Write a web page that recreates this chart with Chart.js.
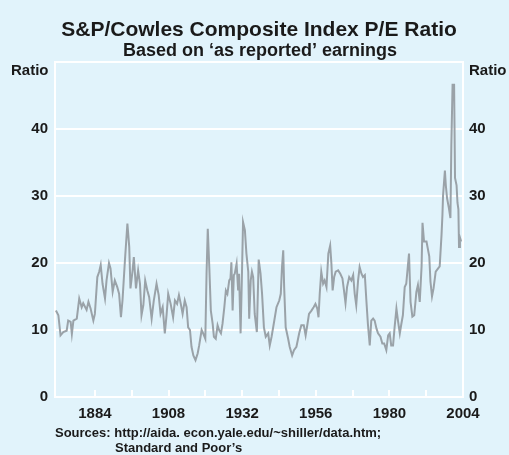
<!DOCTYPE html>
<html>
<head>
<meta charset="utf-8">
<script src="https://cdn.jsdelivr.net/npm/chart.js@4/dist/chart.umd.min.js"></script>
<style>
  html, body { margin: 0; padding: 0; background: #e1f3fb; }
  #wrap { width: 509px; height: 455px; position: relative; }
</style>
</head>
<body>
<div id="wrap"><canvas id="pe-chart"></canvas></div>
<script>
// P/E ratio (fractional years)
const years = [
  1871.3, 1872.1, 1872.8, 1873.7, 1874.8, 1875.3, 1876.1, 1876.5, 1877.0, 1878.1,
  1878.9, 1879.7, 1880.2, 1881.3, 1881.9, 1882.6, 1883.5, 1884.0, 1884.8, 1885.4,
  1885.9, 1886.5, 1887.3, 1887.8, 1888.6, 1889.1, 1889.8, 1890.5, 1891.3, 1891.9,
  1892.5, 1893.0, 1893.8, 1894.6, 1895.2, 1895.6, 1896.3, 1896.7, 1897.4, 1898.1,
  1898.7, 1899.2, 1899.8, 1900.4, 1901.1, 1901.7, 1902.5, 1903.2, 1904.1, 1904.8,
  1905.4, 1906.1, 1906.8, 1907.4, 1907.9, 1908.7, 1909.5, 1910.1, 1910.8, 1911.4,
  1912.0, 1912.6, 1913.3, 1913.9, 1914.4, 1915.0, 1915.5, 1916.1, 1916.8, 1917.5,
  1918.0, 1918.8, 1919.3, 1920.0, 1920.4, 1920.8, 1921.3, 1921.8, 1922.4, 1922.8,
  1923.4, 1924.0, 1924.5, 1925.1, 1925.6, 1926.2, 1926.7, 1927.2, 1927.8, 1928.2,
  1928.5, 1928.9, 1929.3, 1929.6, 1930.2, 1930.7, 1931.0, 1931.5, 1931.9, 1932.3,
  1932.9, 1933.4, 1934.0, 1934.3, 1934.8, 1935.2, 1935.6, 1936.1, 1936.8, 1937.4,
  1938.0, 1938.5, 1939.1, 1939.7, 1940.5, 1941.0, 1941.6, 1942.3, 1943.2, 1944.1,
  1944.6, 1945.0, 1945.4, 1945.7, 1946.2, 1947.0, 1947.5, 1948.3, 1948.9, 1949.7,
  1950.6, 1951.3, 1952.1, 1952.7, 1953.3, 1953.8, 1954.6, 1955.3, 1955.9, 1956.5,
  1956.9, 1957.3, 1957.8, 1958.4, 1958.9, 1959.5, 1960.1, 1960.7, 1961.1, 1961.5,
  1962.0, 1962.5, 1963.3, 1964.0, 1964.7, 1965.2, 1965.7, 1966.2, 1966.9, 1967.6,
  1968.2, 1968.7, 1969.2, 1969.8, 1970.3, 1970.9, 1971.4, 1972.0, 1972.5, 1973.0,
  1973.6, 1974.1, 1974.7, 1975.2, 1975.8, 1976.3, 1977.1, 1977.7, 1978.3, 1979.0,
  1979.6, 1980.1, 1980.6, 1981.2, 1981.7, 1982.3, 1982.8, 1983.4, 1983.9, 1984.4,
  1985.0, 1985.5, 1986.1, 1986.4, 1986.9, 1987.5, 1988.1, 1988.8, 1989.3, 1989.9,
  1990.5, 1990.8, 1991.3, 1992.1, 1993.0, 1993.4, 1993.9, 1994.4, 1995.1, 1995.9,
  1996.4, 1997.0, 1997.3, 1997.5, 1998.1, 1998.4, 1998.8, 1999.4, 1999.9, 2000.2,
  2000.6, 2001.1, 2001.4, 2001.9, 2002.2, 2002.5, 2002.7, 2003.0, 2003.4
];
const ratios = [
  12.9, 12.2, 9.2, 9.7, 9.9, 11.4, 11.2, 9.4, 11.4, 11.7,
  14.7, 13.4, 14.0, 13.0, 14.2, 13.2, 11.4, 12.4, 17.9, 18.7,
  19.7, 16.9, 14.7, 17.4, 20.0, 19.2, 15.7, 17.4, 16.4, 15.4,
  11.9, 14.4, 20.4, 25.9, 22.4, 16.2, 18.9, 20.9, 16.2, 18.9,
  16.9, 12.2, 13.7, 17.4, 15.9, 14.9, 11.7, 14.4, 16.9, 15.2,
  12.4, 13.4, 9.5, 12.4, 15.4, 13.9, 11.9, 14.4, 13.9, 15.2,
  13.9, 12.4, 14.4, 13.4, 10.4, 10.0, 7.5, 6.2, 5.5, 6.5,
  7.7, 10.0, 9.5, 8.7, 18.4, 25.1, 19.4, 12.9, 10.9, 9.0,
  8.7, 10.7, 10.0, 9.5, 10.9, 13.4, 15.9, 15.4, 17.4, 17.7,
  20.1, 12.9, 18.2, 18.4, 19.9, 15.9, 18.4, 9.5, 17.4, 26.1,
  24.9, 21.4, 18.7, 11.7, 17.4, 18.7, 17.9, 12.4, 9.7, 20.5,
  18.4, 15.4, 10.4, 9.0, 9.5, 7.7, 9.0, 10.9, 13.4, 14.4,
  15.4, 19.4, 21.9, 16.4, 10.4, 8.7, 7.5, 6.2, 7.0, 7.5,
  9.5, 10.7, 10.7, 9.2, 10.9, 12.4, 12.9, 13.4, 13.9, 13.2,
  11.9, 15.4, 18.7, 16.9, 17.4, 16.4, 21.4, 22.6, 19.9, 15.9,
  17.9, 18.7, 18.9, 18.4, 17.7, 15.9, 14.0, 16.4, 17.9, 17.4,
  18.2, 15.4, 13.7, 17.4, 19.4, 18.4, 17.9, 18.2, 14.4, 10.9,
  7.7, 11.4, 11.7, 11.4, 10.2, 9.5, 9.0, 8.0, 8.0, 7.0,
  9.2, 9.5, 7.7, 7.7, 10.4, 13.2, 11.4, 9.5, 10.9, 12.2,
  16.4, 16.9, 19.9, 21.4, 14.2, 12.0, 12.2, 15.7, 16.7, 14.2,
  19.5, 26.0, 23.2, 23.2, 21.0, 17.2, 15.0, 16.2, 18.7, 19.2,
  19.5, 24.2, 27.2, 30.1, 33.8, 31.6, 29.7, 28.2, 26.7, 37.6,
  46.6, 46.6, 32.7, 31.6, 29.0, 28.0, 22.4, 23.8, 23.2
];
const yTicks = [0, 10, 20, 30, 40];
const xTicks = [1884, 1896, 1908, 1920, 1932, 1944, 1956, 1968, 1980, 1992, 2004];
const xLabels = [1884, 1908, 1932, 1956, 1980, 2004];

Chart.defaults.font.family = '"Liberation Sans", Arial, sans-serif';
Chart.defaults.color = '#1a1a1a';

const BG = '#e1f3fb';
const WHITE = '#ffffff';
const FONT = '"Liberation Sans", Arial, sans-serif';

var decor = {
    id: 'decor',
    beforeDraw: function (chart) {
        var c = chart.ctx;
        c.save();
        c.fillStyle = BG;
        c.fillRect(0, 0, chart.width, chart.height);
        c.restore();
    },
    beforeDatasetsDraw: function (chart) {
        var c = chart.ctx, a = chart.chartArea, x = chart.scales.x;
        c.save();
        c.strokeStyle = WHITE;
        c.lineWidth = 2;
        c.strokeRect(a.left, a.top, a.right - a.left, a.bottom - a.top);
        // small tick marks pointing up from the bottom edge
        xTicks.forEach(function (v) {
            var px = Math.round(x.getPixelForValue(v));
            c.beginPath();
            c.moveTo(px, a.bottom);
            c.lineTo(px, a.bottom - 7);
            c.stroke();
        });
        c.restore();
    },
    afterDraw: function (chart) {
        var c = chart.ctx;
        c.save();
        c.fillStyle = '#1a1a1a';
        c.textBaseline = 'middle';
        c.textAlign = 'center';
        c.font = 'bold 21px ' + FONT;
        c.fillText('S&P/Cowles Composite Index P/E Ratio', 259, 30);
        c.font = 'bold 18px ' + FONT;
        c.fillText('Based on \u2018as reported\u2019 earnings', 260, 51);
        c.font = 'bold 15px ' + FONT;
        c.textAlign = 'left';
        c.fillText('Ratio', 11, 71);
        c.fillText('Ratio', 469, 71);
        c.font = 'bold 13px ' + FONT;
        c.fillText('Sources: http://aida. econ.yale.edu/~shiller/data.htm;', 55, 433);
        c.fillText('Standard and Poor\u2019s', 115, 448);
        c.restore();
    }
};

var points = years.map(function (y, i) { return { x: y, y: ratios[i] }; });

var ctx = document.getElementById('pe-chart').getContext('2d');
var peChart = new Chart(ctx, {
    type: 'line',
    data: {
        datasets: [{
            data: points,
            borderColor: '#9aa2a8',
            borderWidth: 2,
            pointRadius: 0,
            tension: 0,
            yAxisID: 'y'
        }]
    },
    options: {
        responsive: true,
        maintainAspectRatio: false,
        animation: false,
        layout: { padding: { top: 62, left: 0, right: 0, bottom: 0 } },
        plugins: { legend: { display: false }, title: { display: false }, tooltip: { enabled: false } },
        scales: {
            x: {
                type: 'linear',
                min: 1871,
                max: 2004,
                grid: { display: false, drawTicks: false },
                border: { display: false },
                afterBuildTicks: function (axis) {
                    axis.ticks = xTicks.map(function (v) { return { value: v }; });
                },
                afterFit: function (scale) { scale.height = 58; },
                ticks: {
                    autoSkip: false,
                    maxRotation: 0,
                    padding: 8,
                    font: { size: 15, weight: 'bold' },
                    callback: function (v) { return xLabels.indexOf(v) >= 0 ? String(v) : ''; }
                }
            },
            y: {
                position: 'left',
                min: 0,
                max: 50,
                afterBuildTicks: function (axis) {
                    axis.ticks = yTicks.map(function (v) { return { value: v }; });
                },
                afterFit: function (scale) { scale.width = 55; },
                grid: { color: WHITE, lineWidth: 2, drawTicks: false },
                border: { display: false },
                ticks: { padding: 7, font: { size: 15, weight: 'bold' } }
            },
            y2: {
                position: 'right',
                min: 0,
                max: 50,
                afterBuildTicks: function (axis) {
                    axis.ticks = yTicks.map(function (v) { return { value: v }; });
                },
                afterFit: function (scale) { scale.width = 46; },
                grid: { display: false, drawTicks: false },
                border: { display: false },
                ticks: { padding: 6, font: { size: 15, weight: 'bold' } }
            }
        }
    },
    plugins: [decor]
});
</script>
</body>
</html>
